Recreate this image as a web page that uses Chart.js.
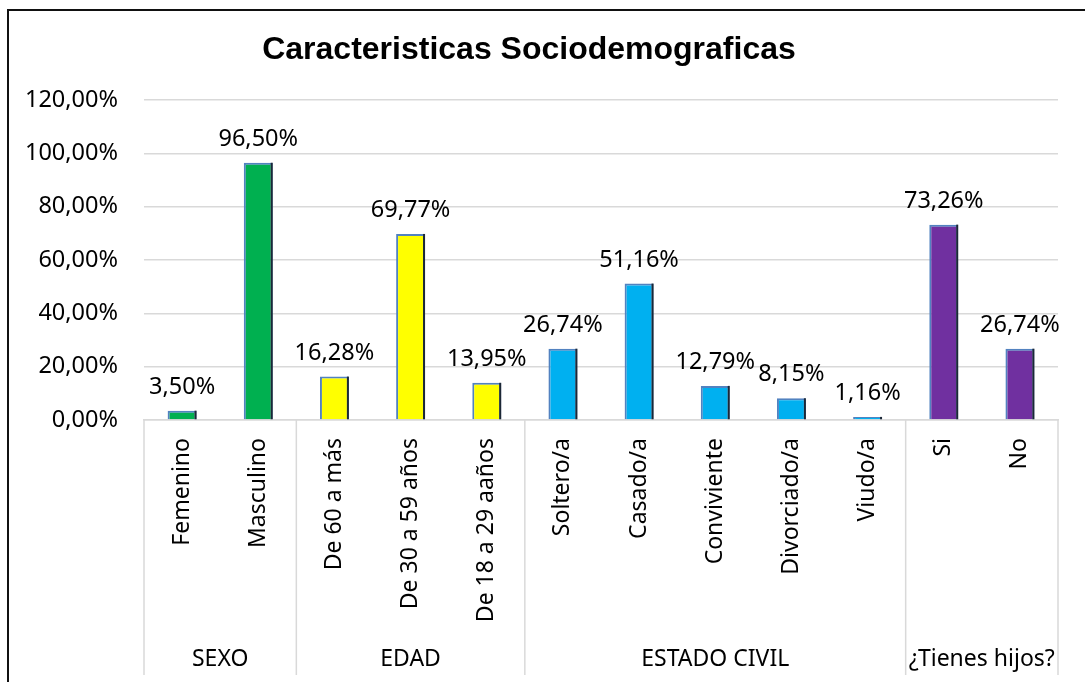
<!DOCTYPE html>
<html>
<head>
<meta charset="utf-8">
<script src="https://cdn.jsdelivr.net/npm/chart.js@4"></script>
<style>
  body { margin: 0; background: #fff; }
  #wrap { position: relative; width: 1085px; height: 682px; }
  #frame { position: absolute; left: 7px; top: 9px; right: 0; bottom: 0;
           border-top: 2px solid #111; border-left: 2px solid #111; pointer-events: none; }
</style>
</head>
<body>
<div id="wrap">
  <canvas id="chart" width="1085" height="682"></canvas>
  <div id="frame"></div>
</div>
<script>
const categories = ['Femenino', 'Masculino', 'De 60 a más', 'De 30 a 59 años', 'De 18 a 29 aaños',
  'Soltero/a', 'Casado/a', 'Conviviente', 'Divorciado/a', 'Viudo/a', 'Si', 'No'];
const values = [3.50, 96.50, 16.28, 69.77, 13.95, 26.74, 51.16, 12.79, 8.15, 1.16, 73.26, 26.74];
const groups = ['SEXO', 'EDAD', 'ESTADO CIVIL', '¿Tienes hijos?'];
const groupSizes = [2, 3, 5, 2];
const groupColors = ['#00B050', '#FFFF00', '#00B0F0', '#7030A0'];
const yTicks = [0, 20, 40, 60, 80, 100, 120];

const FONT = "'Noto Sans', 'Open Sans', sans-serif";
const pct = v => v.toFixed(2).replace('.', ',') + '%';

// colour of each bar from its group
const barColors = [];
groupSizes.forEach((n, g) => { for (let i = 0; i < n; i++) barColors.push(groupColors[g]); });

const extras = {
  id: 'extras',
  afterDatasetsDraw(chart) {
    const ctx = chart.ctx;
    const meta = chart.getDatasetMeta(0);
    ctx.save();
    meta.data.forEach((bar, i) => {
      // dark right edge on the bars
      ctx.strokeStyle = '#1c2836';
      ctx.lineWidth = 2;
      ctx.beginPath();
      ctx.moveTo(bar.x + bar.width / 2 - 1, bar.y);
      ctx.lineTo(bar.x + bar.width / 2 - 1, bar.base);
      ctx.stroke();
      // value labels
      ctx.fillStyle = '#000';
      ctx.font = '23.5px ' + FONT;
      ctx.textAlign = 'center';
      ctx.textBaseline = 'alphabetic';
      ctx.fillText(pct(values[i]), bar.x, bar.y - 17);
    });
    ctx.restore();
  },
  afterDraw(chart) {
    const ctx = chart.ctx;
    const xs = chart.scales.x;
    const step = xs.width / categories.length;
    const top = chart.chartArea.bottom;
    const bottom = 675;
    ctx.save();
    ctx.strokeStyle = '#d9d9d9';
    ctx.lineWidth = 1.5;
    let start = 0;
    const edge = i => xs.getPixelForValue(i) - step / 2;
    ctx.beginPath();
    ctx.moveTo(edge(0), top); ctx.lineTo(edge(0), bottom);
    groupSizes.forEach((n, g) => {
      const end = start + n;
      ctx.moveTo(edge(end), top); ctx.lineTo(edge(end), bottom);
      ctx.fillStyle = '#000';
      ctx.font = '23px ' + FONT;
      ctx.textAlign = 'center';
      ctx.textBaseline = 'middle';
      ctx.fillText(groups[g], (edge(start) + edge(end)) / 2, 659);
      start = end;
    });
    ctx.stroke();
    ctx.restore();
  }
};

new Chart(document.getElementById('chart'), {
  type: 'bar',
  data: {
    labels: categories,
    datasets: [{
      data: values,
      backgroundColor: barColors,
      borderColor: '#5282c0',
      borderWidth: { top: 2, left: 2, right: 2, bottom: 0 },
      borderSkipped: false,
      categoryPercentage: 1,
      barPercentage: 0.38
    }]
  },
  options: {
    responsive: false,
    animation: false,
    layout: { padding: { left: 0, right: 27, top: 0, bottom: 0 } },
    plugins: {
      legend: { display: false },
      tooltip: { enabled: false },
      title: {
        display: true,
        text: 'Caracteristicas Sociodemograficas',
        color: '#000',
        font: { family: "'Liberation Sans', Arial, sans-serif", size: 32, weight: 'bold', lineHeight: 1.2 },
        padding: { top: 31, bottom: 30.6 }
      }
    },
    scales: {
      y: {
        min: 0,
        max: 120,
        afterBuildTicks: s => { s.ticks = yTicks.map(v => ({ value: v })); },
        afterFit: s => { s.width = 144; },
        grid: { color: '#d9d9d9', lineWidth: 1.5, drawTicks: false },
        border: { display: false },
        ticks: {
          padding: 26,
          color: '#000',
          font: { family: FONT, size: 23.5 },
          callback: v => pct(v)
        }
      },
      x: {
        afterFit: s => { s.height = 262; },
        grid: { display: false, drawTicks: false },
        border: { display: true, color: '#d9d9d9', width: 1.5 },
        ticks: {
          autoSkip: false,
          minRotation: 90,
          maxRotation: 90,
          padding: 18,
          color: '#000',
          font: { family: FONT, size: 23 }
        }
      }
    }
  },
  plugins: [extras]
});
</script>
</body>
</html>
